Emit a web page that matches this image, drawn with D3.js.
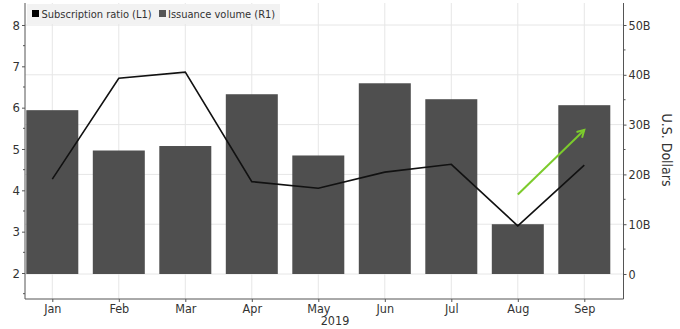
<!DOCTYPE html>
<html><head><meta charset="utf-8">
<script src="https://cdn.jsdelivr.net/npm/d3@7"></script>
<style>
body{margin:0;background:#fff;}
svg{display:block;}
text{font-family:"DejaVu Sans Condensed","DejaVu Sans",sans-serif;fill:#333;}
</style></head>
<body><svg id="c" width="680" height="329"></svg>
<script>
const months = ["Jan","Feb","Mar","Apr","May","Jun","Jul","Aug","Sep"];
const subscriptionRatio = [4.27,6.71,6.86,4.21,4.05,4.44,4.63,3.14,4.61];
const issuanceVolume = [32.9,24.8,25.7,36.1,23.8,38.3,35.1,10.0,33.9]; // billions USD
const leftTicks = [2,3,4,5,6,7,8];
const rightTicks = [0,10,20,30,40,50];
const rightTickLabels = ["0","10B","20B","30B","40B","50B"];
const arrowFrom = {m:"Aug", v:3.90};
const arrowTo = {m:"Sep", v:5.46};

const svg = d3.select("#c");
const L = 25, R = 623.5, T = 3, B = 299;
const x = d3.scalePoint().domain(months).range([52.3, 584.3]);
const yL = d3.scaleLinear().domain([1.371, 8.532]).range([B, T]);
const yR = d3.scaleLinear().domain([-5.02, 54.42]).range([B, T]);
const barW = 52;

// grid
const g = svg.append("g");
g.selectAll(".hg").data(rightTicks).join("line")
  .attr("x1", L).attr("x2", R).attr("y1", d=>yR(d)).attr("y2", d=>yR(d))
  .attr("stroke","#e6e6e6").attr("stroke-width",1);
g.selectAll(".vg").data(months).join("line")
  .attr("x1", d=>x(d)).attr("x2", d=>x(d)).attr("y1", T).attr("y2", B)
  .attr("stroke","#e6e6e6").attr("stroke-width",1);

// bars
svg.append("g").selectAll("rect").data(months).join("rect")
  .attr("x", d=>x(d)-barW/2).attr("width", barW)
  .attr("y", (d,i)=>yR(issuanceVolume[i]))
  .attr("height", (d,i)=>yR(0)-yR(issuanceVolume[i]))
  .attr("fill","#4f4f4f");

// line
svg.append("path").datum(months)
  .attr("d", d3.line().x(d=>x(d)).y((d,i)=>yL(subscriptionRatio[i])))
  .attr("fill","none").attr("stroke","#111").attr("stroke-width",1.6);

// arrow
const defs = svg.append("defs");
defs.append("marker").attr("id","ah").attr("viewBox","0 0 10 10").attr("refX",8).attr("refY",5)
  .attr("markerWidth",5).attr("markerHeight",5).attr("orient","auto")
  .append("path").attr("d","M1,1 L8,5 L1,9").attr("fill","none").attr("stroke","#7ccb2c").attr("stroke-width",2);
svg.append("line")
  .attr("x1", x(arrowFrom.m)).attr("y1", yL(arrowFrom.v))
  .attr("x2", x(arrowTo.m)).attr("y2", yL(arrowTo.v))
  .attr("stroke","#7ccb2c").attr("stroke-width",2).attr("marker-end","url(#ah)");

// left axis
const axL = d3.axisLeft(yL).tickValues(leftTicks).tickSize(3).tickFormat(d3.format("d"));
const gL = svg.append("g").attr("transform",`translate(${L},0)`).call(axL);
gL.select(".domain").attr("d",`M0,${T}V${B}`);
gL.selectAll(".minor").data([1.5,2.5,3.5,4.5,5.5,6.5,7.5]).join("line").attr("class","minor")
  .attr("x1",-2).attr("x2",0).attr("y1",d=>yL(d)).attr("y2",d=>yL(d)).attr("stroke","#555");
gL.selectAll("text").attr("font-size",13).attr("x",-5);

// right axis
const axR = d3.axisRight(yR).tickValues(rightTicks).tickSize(3).tickFormat((d,i)=>rightTickLabels[i]);
const gR = svg.append("g").attr("transform",`translate(${R},0)`).call(axR);
gR.select(".domain").attr("d",`M0,${T}V${B}`);
gR.selectAll(".minor").data([5,15,25,35,45]).join("line").attr("class","minor")
  .attr("x1",0).attr("x2",2).attr("y1",d=>yR(d)).attr("y2",d=>yR(d)).attr("stroke","#555");
gR.selectAll("text").attr("font-size",12.5).attr("x",5);

// bottom axis
const axB = d3.axisBottom(x).tickSize(3);
const gB = svg.append("g").attr("transform",`translate(0,${B})`).call(axB);
gB.select(".domain").attr("d",`M${L},0H${R}`);
gB.selectAll("text").attr("font-size",12.5).attr("y",5);
[gL,gR,gB].forEach(a=>{a.selectAll(".domain").attr("stroke","#555");a.selectAll(".tick line").attr("stroke","#555");a.attr("font-family",null);});

svg.append("text").attr("x",335).attr("y",325).attr("text-anchor","middle").attr("font-size",12.5).text("2019");
svg.append("text").attr("transform","translate(662,150) rotate(90)").attr("text-anchor","middle")
  .attr("font-size",14).text("U.S. Dollars");

// legend
const lg = svg.append("g");
lg.append("rect").attr("x",27).attr("y",4).attr("width",253).attr("height",20).attr("fill","#f2f2f2");
lg.append("rect").attr("x",32).attr("y",10).attr("width",7).attr("height",7).attr("fill","#000");
lg.append("text").attr("x",41.5).attr("y",18).attr("font-size",11).text("Subscription ratio (L1)");
lg.append("rect").attr("x",159).attr("y",10).attr("width",7).attr("height",7).attr("fill","#555");
lg.append("text").attr("x",168).attr("y",18).attr("font-size",11).text("Issuance volume (R1)");
</script></body></html>
